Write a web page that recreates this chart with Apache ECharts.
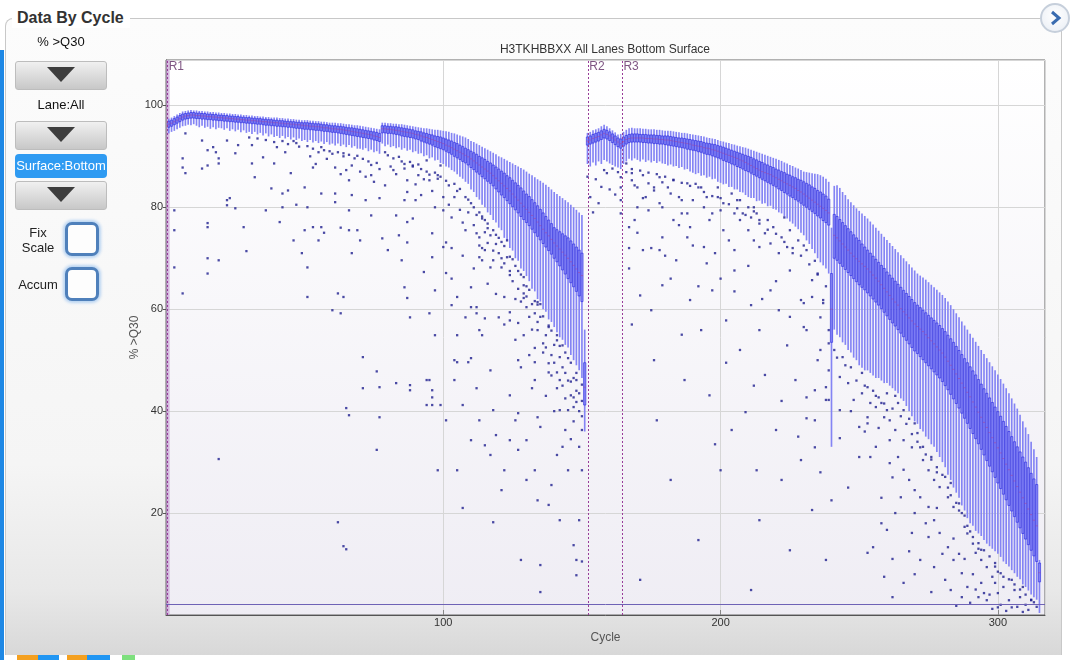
<!DOCTYPE html>
<html>
<head>
<meta charset="utf-8">
<title>Data By Cycle</title>
<script src="https://cdn.jsdelivr.net/npm/echarts@6/dist/echarts.min.js"></script>
<style>
  body { margin: 0; width: 1071px; height: 660px; overflow: hidden; background: #fff; position: relative;
         font-family: "Liberation Sans", Arial, sans-serif; color: #222; }
  #strip { position: absolute; left: 0; top: 50px; width: 4px; height: 610px; background: #1e88e5; }
  #panel { position: absolute; left: 5px; top: 18px; width: 1057px; height: 637px; box-sizing: border-box;
           border: 1px solid #c8c8c8; border-bottom: none; border-top-left-radius: 8px;
           background: linear-gradient(#fcfcfc 0%, #f5f5f5 70%, #e8e8e8 90%, #d8d8d8 100%); }
  #hdr { position: absolute; left: 12px; top: 8px; padding: 0 6px 0 5px; background: #fff; font-weight: bold;
         font-size: 16px; line-height: 20px; color: #333; z-index: 3; }
  #nav { position: absolute; left: 1040px; top: 3px; width: 30px; height: 30px; box-sizing: border-box; z-index: 3;
         border: 2px solid #c6cfdb; border-radius: 50%; background: radial-gradient(circle at 50% 40%, #fff, #e8edf4); }
  #ctrls { position: absolute; left: 0; top: 0; z-index: 3; }
  .lbl { position: absolute; left: 15px; width: 92px; text-align: center; font-size: 13px; color: #111; }
  .btn { position: absolute; left: 15px; width: 92px; height: 29px; box-sizing: border-box; border: 1px solid #bdbdbd;
         border-radius: 3px; background: linear-gradient(#f0f0f0, #c8c8c8); }
  .btn:after { content: ""; position: absolute; left: 31px; top: 5px; border-left: 14px solid transparent;
               border-right: 14px solid transparent; border-top: 15px solid #3d3d3d; }
  #surf { position: absolute; left: 15px; top: 154px; width: 92px; height: 24px; background: #2f9bf2; color: #fff;
          border-radius: 4px; text-align: center; line-height: 24px; font-size: 13px; }
  .chk { position: absolute; left: 65px; width: 34px; height: 34px; box-sizing: border-box; border: 3px solid #4f80bb;
         border-radius: 7px; background: #fdfdfd; box-shadow: 0 0 3px 2px #b9d4f2; }
  .side { position: absolute; left: 18px; width: 40px; text-align: center; font-size: 13px; color: #222; line-height: 15px; }
  .foot { position: absolute; top: 655px; height: 5px; }
  #chart { position: absolute; left: 0; top: 0; width: 1071px; height: 660px; z-index: 2; }
</style>
</head>
<body>
  <div id="strip"></div>
  <div id="panel"></div>
  <div id="hdr">Data By Cycle</div>
  <div id="nav"><svg width="26" height="26"><polyline points="10,7 17,13 10,19" fill="none" stroke="#3a6cb0" stroke-width="3"/></svg></div>
  <div id="chart"></div>
  <div id="ctrls">
    <div class="lbl" style="top:34px">% &gt;Q30</div>
    <div class="btn" style="top:61px"></div>
    <div class="lbl" style="top:97px">Lane:All</div>
    <div class="btn" style="top:121px"></div>
    <div id="surf">Surface:Bottom</div>
    <div class="btn" style="top:181px"></div>
    <div class="side" style="top:225px">Fix<br>Scale</div>
    <div class="chk" style="top:222px"></div>
    <div class="side" style="top:277px">Accum</div>
    <div class="chk" style="top:267px"></div>
  </div>
  <div class="foot" style="left:17px;width:21px;background:#f4a020"></div>
  <div class="foot" style="left:38px;width:21px;background:#2196f3"></div>
  <div class="foot" style="left:67px;width:20px;background:#f4a020"></div>
  <div class="foot" style="left:87px;width:23px;background:#2196f3"></div>
  <div class="foot" style="left:122px;width:13px;background:#7ee07e"></div>

<script type="text/javascript">
  // per-cycle box values (% >Q30), cycles 1..315 : R1 1-151, R2 152-163, R3 164-315
  var median = [
    96.3,96.5,96.8,97.1,97.4,97.7,97.9,98.0,98.1,98.1,
    98.0,98.0,97.9,97.9,97.8,97.8,97.7,97.7,97.6,97.6,
    97.5,97.5,97.4,97.4,97.3,97.3,97.2,97.2,97.1,97.1,
    97.0,97.0,96.9,96.9,96.8,96.8,96.7,96.7,96.6,96.6,
    96.5,96.5,96.4,96.4,96.3,96.3,96.2,96.2,96.1,96.0,
    96.0,95.9,95.9,95.8,95.8,95.7,95.6,95.6,95.5,95.4,
    95.4,95.3,95.3,95.2,95.1,95.0,94.9,94.8,94.7,94.6,
    94.5,94.4,94.3,94.2,94.0,93.9,93.7,95.4,95.4,95.3,
    95.3,95.2,95.1,95.0,94.9,94.8,94.7,94.6,94.5,94.3,
    94.2,94.0,93.8,93.7,93.5,93.3,93.1,92.9,92.7,92.5,
    92.2,92.0,91.7,91.4,91.1,90.8,90.5,90.2,89.9,89.5,
    89.1,88.7,88.3,87.9,87.5,87.1,86.7,86.2,85.7,85.2,
    84.7,84.2,83.7,83.2,82.6,82.0,81.4,80.8,80.2,79.6,
    79.0,78.4,77.8,77.1,76.4,75.7,75.0,74.4,73.7,73.0,
    72.4,71.8,71.2,70.6,70.0,69.3,68.6,67.9,67.2,66.6,
    44.7,
    93.0,93.2,93.5,93.7,93.9,94.2,94.5,94.3,94.0,93.6,93.2,92.8,
    92.5,92.9,93.3,93.5,93.6,93.6,93.6,
    93.6,93.6,93.5,93.5,93.5,93.4,93.4,93.3,93.3,93.2,
    93.2,93.1,93.0,92.9,92.8,92.7,92.6,92.5,92.4,92.2,
    92.1,92.0,91.9,91.7,91.6,91.5,91.3,91.2,91.0,90.8,
    90.6,90.4,90.2,90.0,89.8,89.6,89.3,89.1,88.8,88.5,
    88.2,87.9,87.6,87.3,87.0,86.8,86.6,86.4,86.1,85.8,
    85.5,85.2,84.9,84.6,84.3,84.0,83.7,83.3,83.0,82.6,
    82.2,81.8,81.4,81.0,80.6,80.2,79.8,79.4,78.9,60.0,
    74.5,74.0,73.4,72.8,72.2,71.6,71.0,70.4,69.9,69.4,
    68.9,68.4,67.9,67.3,66.7,66.1,65.5,64.8,64.1,63.4,
    62.7,62.0,61.4,60.8,60.1,59.5,58.9,58.3,57.7,57.1,
    56.6,56.1,55.6,55.0,54.4,53.8,53.2,52.6,52.0,51.4,
    50.6,49.8,49.0,48.2,47.3,46.4,45.5,44.6,43.7,42.8,
    41.8,40.8,39.8,38.8,37.8,36.8,35.8,34.8,33.8,32.8,
    31.8,30.7,29.6,28.5,27.4,26.3,25.2,24.1,23.0,21.9,
    20.8,19.7,18.6,17.5,8.3
  ];
  var q1 = [
    95.7,95.9,96.2,96.5,96.8,97.1,97.3,97.4,97.5,97.5,
    97.4,97.4,97.3,97.3,97.2,97.2,97.1,97.1,97.0,97.0,
    96.9,96.9,96.8,96.8,96.7,96.7,96.6,96.6,96.5,96.5,
    96.4,96.4,96.3,96.3,96.2,96.1,96.1,96.0,96.0,95.9,
    95.9,95.8,95.8,95.7,95.7,95.6,95.5,95.5,95.4,95.3,
    95.3,95.2,95.2,95.1,95.1,95.0,94.9,94.9,94.8,94.7,
    94.7,94.6,94.5,94.4,94.3,94.2,94.1,94.0,93.9,93.8,
    93.7,93.6,93.5,93.4,93.2,93.1,92.9,94.6,94.6,94.5,
    94.5,94.4,94.3,94.2,94.0,93.9,93.8,93.7,93.6,93.4,
    93.3,93.0,92.8,92.6,92.4,92.2,91.9,91.7,91.5,91.3,
    91.0,90.7,90.4,90.0,89.7,89.4,89.0,88.7,88.3,87.8,
    87.4,86.9,86.5,86.0,85.6,85.1,84.7,84.2,83.6,83.0,
    82.4,81.9,81.3,80.7,80.1,79.5,78.9,78.2,77.6,77.0,
    76.4,75.7,75.0,74.3,73.6,72.9,72.2,71.5,70.8,70.0,
    69.3,68.5,67.7,66.9,66.0,65.2,64.4,63.5,62.6,61.5,
    41.2,
    92.2,92.4,92.6,92.8,93.0,93.3,93.6,93.4,93.1,92.7,92.3,91.9,
    91.6,92.0,92.4,92.7,92.8,92.8,92.8,
    92.8,92.7,92.7,92.6,92.6,92.5,92.5,92.4,92.4,92.3,
    92.2,92.1,92.0,91.9,91.8,91.7,91.6,91.4,91.3,91.2,
    91.1,90.9,90.8,90.6,90.4,90.3,90.1,89.9,89.7,89.5,
    89.2,89.0,88.8,88.5,88.3,88.0,87.8,87.5,87.2,87.0,
    86.7,86.4,86.1,85.8,85.5,85.2,84.9,84.6,84.3,84.0,
    83.6,83.3,82.9,82.6,82.2,81.9,81.5,81.2,80.8,80.4,
    80.0,79.6,79.2,78.8,78.3,77.9,77.4,77.0,76.5,53.5,
    70.0,69.6,69.0,68.4,67.8,67.2,66.6,66.0,65.4,64.8,
    64.3,63.8,63.2,62.6,62.0,61.4,60.8,60.1,59.4,58.7,
    58.0,57.3,56.7,56.0,55.3,54.6,53.9,53.2,52.5,51.8,
    51.3,50.7,50.1,49.5,48.9,48.3,47.7,47.1,46.5,45.8,
    45.0,44.2,43.3,42.4,41.5,40.6,39.6,38.6,37.6,36.6,
    35.6,34.6,33.6,32.5,31.4,30.3,29.2,28.1,27.0,25.9,
    24.8,23.7,22.6,21.5,20.4,19.3,18.2,17.1,16.0,14.9,
    13.8,12.7,11.6,10.5,6.5
  ];
  var q3 = [
    96.9,97.1,97.4,97.7,98.0,98.3,98.4,98.5,98.6,98.6,
    98.5,98.5,98.4,98.4,98.3,98.3,98.2,98.2,98.1,98.1,
    98.0,98.0,97.9,97.9,97.8,97.8,97.7,97.7,97.6,97.6,
    97.5,97.5,97.4,97.4,97.3,97.3,97.2,97.2,97.1,97.1,
    97.0,97.0,96.9,96.9,96.8,96.8,96.7,96.7,96.6,96.6,
    96.6,96.5,96.5,96.4,96.4,96.3,96.2,96.2,96.1,96.0,
    96.0,95.9,95.9,95.8,95.7,95.6,95.6,95.5,95.4,95.3,
    95.2,95.1,95.0,94.9,94.8,94.7,94.5,96.0,96.0,95.9,
    95.9,95.8,95.8,95.7,95.6,95.5,95.4,95.3,95.2,95.0,
    94.9,94.8,94.6,94.5,94.3,94.2,94.0,93.9,93.8,93.6,
    93.4,93.2,93.0,92.7,92.5,92.2,91.9,91.6,91.3,91.0,
    90.7,90.4,90.0,89.7,89.4,89.0,88.7,88.3,87.9,87.5,
    87.1,86.7,86.2,85.8,85.3,84.8,84.3,83.8,83.2,82.6,
    82.1,81.5,80.9,80.3,79.6,78.9,78.2,77.5,76.8,76.0,
    75.6,75.2,74.8,74.4,74.0,73.4,72.8,72.2,71.6,71.0,
    49.5,
    93.8,94.0,94.3,94.5,94.7,95.0,95.3,95.1,94.8,94.4,94.0,93.6,
    93.4,93.8,94.1,94.3,94.4,94.4,94.4,
    94.3,94.3,94.3,94.2,94.2,94.2,94.1,94.1,94.0,94.0,
    94.0,93.9,93.8,93.7,93.6,93.6,93.5,93.4,93.3,93.2,
    93.1,93.0,92.9,92.7,92.6,92.5,92.4,92.3,92.1,92.0,
    91.8,91.6,91.4,91.2,91.0,90.8,90.6,90.4,90.2,90.0,
    89.8,89.5,89.3,89.0,88.8,88.5,88.3,88.0,87.8,87.5,
    87.3,87.0,86.8,86.5,86.3,86.0,85.8,85.5,85.3,85.0,
    84.7,84.4,84.0,83.7,83.3,83.0,82.6,82.2,81.6,67.0,
    78.6,78.2,77.6,77.0,76.4,75.8,75.2,74.6,74.0,73.5,
    72.8,72.2,71.6,71.0,70.4,69.8,69.2,68.6,68.0,67.3,
    66.7,66.1,65.5,64.9,64.3,63.7,63.1,62.5,61.9,61.3,
    60.8,60.3,59.8,59.3,58.8,58.3,57.8,57.3,56.8,56.2,
    55.6,54.9,54.2,53.5,52.7,51.9,51.1,50.3,49.5,48.7,
    47.9,47.1,46.2,45.3,44.4,43.5,42.6,41.7,40.8,39.9,
    39.0,38.0,37.0,36.0,35.0,34.0,33.0,32.0,31.0,30.0,
    28.9,27.8,26.7,25.6,10.2
  ];
  var highWhisker = [
    97.4,97.6,97.9,98.2,98.5,98.8,98.9,99.0,99.1,99.0,
    99.0,98.9,98.9,98.8,98.8,98.7,98.7,98.6,98.6,98.5,
    98.5,98.4,98.4,98.3,98.3,98.2,98.2,98.1,98.1,98.0,
    98.0,97.9,97.9,97.8,97.8,97.7,97.7,97.6,97.6,97.6,
    97.5,97.5,97.4,97.4,97.3,97.3,97.2,97.2,97.1,97.1,
    97.1,97.0,97.0,96.9,96.9,96.8,96.8,96.7,96.6,96.6,
    96.6,96.5,96.5,96.4,96.3,96.3,96.2,96.1,96.1,96.0,
    95.9,95.8,95.7,95.6,95.5,95.4,95.3,96.6,96.6,96.5,
    96.5,96.4,96.4,96.3,96.3,96.2,96.1,96.0,95.9,95.8,
    95.7,95.6,95.5,95.5,95.4,95.3,95.2,95.2,95.1,95.0,
    94.9,94.8,94.6,94.5,94.3,94.1,93.9,93.7,93.4,93.0,
    92.8,92.5,92.2,91.9,91.6,91.3,91.0,90.7,90.4,90.0,
    89.8,89.5,89.2,88.9,88.6,88.3,88.0,87.7,87.4,87.0,
    86.6,86.3,85.9,85.5,85.2,84.8,84.4,84.0,83.5,83.0,
    82.6,82.2,81.8,81.4,81.0,80.5,80.0,79.5,79.0,78.5,
    56.0,
    94.6,94.8,95.1,95.3,95.5,95.9,96.2,95.9,95.5,95.1,94.7,94.3,
    94.4,94.8,95.2,95.5,95.6,95.5,95.5,
    95.5,95.4,95.4,95.3,95.3,95.3,95.2,95.2,95.1,95.0,
    95.0,95.0,94.9,94.8,94.7,94.6,94.6,94.5,94.4,94.3,
    94.2,94.1,94.0,93.9,93.7,93.6,93.5,93.4,93.2,93.0,
    92.9,92.7,92.6,92.4,92.3,92.1,92.0,91.8,91.7,91.5,
    91.3,91.1,90.9,90.7,90.5,90.3,90.1,89.9,89.7,89.5,
    89.3,89.1,88.8,88.6,88.3,88.1,87.8,87.6,87.3,87.0,
    86.9,86.8,86.7,86.6,86.5,86.3,86.0,85.6,85.0,76.0,
    84.2,84.3,83.8,83.0,82.4,81.6,81.0,80.4,79.8,79.3,
    78.8,78.3,77.8,77.2,76.6,76.0,75.4,74.8,74.2,73.6,
    73.0,72.4,71.8,71.2,70.6,70.0,69.4,68.8,68.2,67.6,
    67.0,66.6,66.2,65.8,65.3,64.8,64.3,63.8,63.3,62.8,
    62.2,61.5,60.8,60.0,59.2,58.4,57.6,56.8,56.0,55.2,
    54.4,53.6,52.8,52.0,51.2,50.4,49.6,48.8,48.0,47.2,
    46.3,45.4,44.5,43.5,42.5,41.5,40.5,39.3,38.0,36.8,
    35.5,34.0,32.5,31.0,10.8
  ];
  var lowWhisker = [
    94.5,94.8,95.0,95.3,95.6,95.9,96.0,96.2,96.1,96.3,
    96.0,95.7,96.0,95.6,95.8,95.4,95.7,95.3,95.6,95.5,
    95.2,95.5,95.0,95.3,94.9,95.2,94.7,95.1,94.6,94.8,
    94.4,94.8,94.3,94.6,94.1,94.5,93.9,94.3,93.8,94.0,
    93.6,94.0,93.5,93.8,93.3,93.7,93.2,93.5,93.0,93.2,
    92.8,93.2,92.7,93.0,92.6,92.9,92.4,92.8,92.3,92.5,
    92.1,92.5,92.0,92.3,91.8,92.2,91.7,92.0,91.5,91.5,
    91.3,91.6,91.0,91.3,90.8,91.0,90.5,92.5,92.0,92.3,
    91.8,92.0,91.6,91.8,91.3,91.6,91.1,91.3,90.8,91.0,
    90.5,90.6,90.0,90.2,89.6,89.8,89.2,89.3,88.7,88.5,
    88.0,87.8,87.3,87.0,86.5,86.0,85.6,85.0,84.6,83.5,
    83.0,82.0,81.5,80.5,80.0,79.0,78.5,77.5,77.0,76.0,
    75.5,74.0,73.5,72.0,71.5,70.0,69.5,68.0,67.5,66.5,
    65.5,64.0,63.5,62.0,61.5,60.0,59.5,58.0,57.5,56.5,
    55.5,54.5,54.0,53.0,52.5,51.0,50.0,49.0,48.0,46.5,
    36.0,
    88.5,88.0,88.8,88.2,89.0,88.5,89.3,89.0,88.6,88.3,88.0,87.8,
    87.5,88.5,89.0,89.5,89.2,89.6,89.3,
    89.0,89.4,88.9,89.2,88.8,89.1,88.7,89.0,88.6,88.5,
    88.2,88.4,88.0,88.1,87.7,87.9,87.4,87.5,87.0,86.8,
    86.5,86.7,86.2,86.3,85.8,86.0,85.5,85.6,85.0,84.8,
    84.5,84.6,84.0,84.0,83.5,83.5,83.0,82.9,82.4,82.0,
    81.8,81.8,81.2,81.3,80.7,80.8,80.2,80.3,79.7,79.5,
    79.0,78.8,78.2,77.8,77.2,76.8,76.2,75.7,75.0,74.5,
    73.5,72.8,71.8,71.0,70.0,69.2,68.6,68.0,67.0,33.0,
    56.0,55.0,54.5,53.5,53.0,52.0,51.5,50.5,50.0,49.0,
    48.5,48.0,48.0,47.5,47.0,46.5,46.5,46.0,45.5,45.5,
    45.0,44.5,44.0,43.5,42.5,42.0,41.0,40.0,39.0,38.0,
    37.5,36.5,36.0,35.0,34.5,33.5,33.0,32.0,31.0,30.0,
    29.0,27.5,26.5,25.0,24.0,23.0,21.5,20.5,19.0,18.0,
    17.5,16.5,16.0,15.5,14.7,14.0,13.5,13.0,12.5,12.0,
    11.4,10.5,10.0,9.5,8.8,8.2,7.5,7.0,6.0,5.5,
    4.8,4.0,3.5,3.0,0.4
  ];

  // individual tile values outside the whiskers: [cycle, % >Q30]
  var outliers = [
    [3,79.4],[3,75.5],[3,68.2],[6,63.1],[6,89.6],[6,87.8],[7,86.7],[7,94.5],[13,93.1],[13,87.6],
    [15,91.2],[15,88.2],[15,76.9],[15,76.1],[15,70.0],[15,67.0],[17,91.8],[18,90.8],[19,89.6],[19,88.6],
    [19,69.6],[22,93.1],[22,81.4],[23,81.8],[22,80.4],[25,79.8],[25,90.6],[26,92.2],[28,76.1],[29,71.4],
    [30,93.7],[31,92.2],[31,88.6],[32,85.9],[35,89.8],[36,79.4],[38,83.7],[39,88.6],[40,91.8],[42,82.7],
    [42,80.0],[41,77.1],[43,90.8],[44,83.3],[45,86.7],[46,73.5],[46,93.0],[49,71.0],[50,83.9],[51,80.0],
    [50,75.5],[51,68.2],[51,62.4],[53,76.1],[53,87.8],[55,73.5],[56,82.7],[55,90.8],[56,76.1],[60,59.8],
    [61,82.7],[62,63.1],[63,59.2],[64,62.4],[64,90.6],[65,87.3],[66,85.3],[66,79.4],[66,75.5],[67,71.0],
    [33,93.5],[36,93.2],[39,92.8],[42,93.0],[44,92.4],[47,92.6],[48,91.9],[51,92.0],[53,91.5],[56,91.8],
    [57,91.2],[59,91.0],[60,90.5],[62,90.8],[64,90.0],[66,90.3],[68,89.6],[69,90.1],[71,89.5],[73,89.0],
    [74,88.3],[76,88.7],[79,90.8],[80,90.2],[82,89.6],[84,89.9],[85,89.0],[86,88.5],[88,88.9],[89,88.0],
    [91,88.4],[92,87.5],[94,87.0],[95,86.4],[97,86.8],[98,85.6],[99,86.0],[101,85.2],[102,84.3],[104,84.6],
    [105,83.2],[106,83.6],[108,82.0],[109,81.5],[110,80.8],[111,80.0],[113,79.0],[114,78.2],[116,76.8],[118,75.5],
    [119,74.6],[121,73.2],[122,72.4],[124,70.3],[125,69.8],[127,67.5],[128,66.8],[130,64.5],[131,63.8],[133,61.6],
    [134,60.9],[136,58.6],[138,56.8],[139,55.8],[141,53.9],[142,52.8],[144,51.5],[146,49.5],[148,47.5],[150,45.2],
    [63,76.0],[67,82.4],[69,75.5],[70,73.5],[72,81.4],[74,86.3],[74,78.4],[77,81.8],[78,73.9],[79,84.3],
    [80,71.6],[82,87.3],[83,78.4],[84,74.5],[85,69.6],[86,81.4],[87,85.3],[89,88.2],[91,86.3],[92,82.4],
    [94,89.2],[95,85.3],[98,86.3],[99,88.2],
    [52,90.0],[54,88.5],[58,89.5],[61,87.8],[63,86.5],[67,88.2],[70,87.0],[72,86.0],[75,85.0],[77,87.5],
    [81,88.0],[83,86.5],[87,83.0],[90,84.5],[93,85.5],[96,83.2],[97,80.0],
    [86,87.6],[90,81.4],[87,77.1],[89,77.8],[87,73.1],[86,64.3],[87,62.2],[88,58.4],[88,44.1],[96,44.1],
    [96,42.7],[96,41.2],[95,46.1],[97,54.9],[95,59.2],[97,63.7],[96,74.9],[96,70.2],[93,67.3],[100,72.2],
    [100,79.4],[100,82.0],[101,73.1],[103,72.0],[101,67.1],[103,60.8],[104,50.0],[105,54.9],[105,62.4],[104,46.1],
    [109,49.6],[110,50.4],[110,64.3],[112,60.4],[112,74.9],[113,74.1],[114,72.0],[113,70.2],[114,69.6],[115,71.6],
    [114,77.8],[115,75.1],[116,75.9],[118,69.6],[117,68.2],[120,71.0],[121,68.2],[123,70.2],[124,66.7],[122,62.4],
    [120,58.4],[115,58.2],[113,55.9],[114,54.9],[112,59.2],[110,60.4],[108,58.4],[124,57.8],[124,59.4],[127,57.3],
    [129,66.3],[129,64.7],[129,63.1],[129,62.2],[130,60.4],[133,59.2],[134,61.4],[135,61.0],[129,54.9],[133,52.4],
    [134,55.9],[138,56.5],[136,53.3],[137,54.9],[141,54.9],[143,52.9],[142,50.6],[145,50.4],[147,46.5],[148,46.1],
    [146,43.1],[147,42.7],[148,41.8],[143,48.6],[141,47.6],[138,49.4],[138,47.6],[142,46.1],[133,46.1],[128,48.6],
    [127,50.0],[133,49.6],[132,44.5],[142,40.2],[145,40.2],[147,40.8],[134,38.8],[135,36.9],[127,39.6],[118,40.2],
    [117,48.0],[112,44.5],[94,46.1],
    [102,80.5],[103,78.0],[104,82.0],[106,79.5],[107,77.0],[108,75.5],[109,79.0],[111,76.5],[112,78.5],[113,72.5],
    [115,77.5],[116,73.0],[117,74.5],[118,71.5],[119,72.8],[120,74.0],[121,70.0],[122,69.0],[123,73.5],[124,67.5],
    [125,65.5],[126,68.5],[126,62.0],[127,64.0],[128,61.5],[130,62.5],[131,58.5],[132,61.0],[132,56.0],[134,57.5],
    [135,58.5],[136,51.5],[137,52.5],[139,51.0],[139,47.0],[140,53.0],[140,49.5],[141,44.5],[143,45.0],[144,47.5],
    [144,42.5],[145,46.0],[146,45.8],[147,38.0],[148,44.0],[149,43.5],[149,40.0],[150,42.0],[150,39.0],[149,33.0],
    [146,34.5],[143,33.0],[140,40.0],[137,43.0],[131,51.0],[126,54.0],[122,57.0],[119,63.0],[116,65.0],[111,68.0],
    [107,70.5],[103,66.0],
    [19,30.6],[62,18.2],[64,13.5],[65,12.9],[65,40.6],[66,39.2],[71,50.6],[71,44.5],[76,47.8],[77,38.8],
    [77,44.7],[76,32.4],[83,45.5],[88,45.1],[94,41.2],[105,49.6],[107,41.2],[105,28.4],[107,21.0],[118,18.2],
    [121,24.5],[122,28.4],[124,34.3],[128,10.8],[127,32.4],[130,26.5],[133,28.4],[134,22.5],[135,9.8],[135,4.5],
    [138,21.6],[139,25.5],[141,31.4],[142,18.6],[144,36.3],[145,28.4],[147,13.7],[148,7.8],[148,10.8],[149,18.6],
    [150,28.4],[150,36.3],[115,33.3],[113,38.2],[117,31.4],[110,34.3],[119,35.3],[124,43.1],[126,38.2],[130,34.3],
    [99,41.2],[101,38.2],[98,28.4],[61,81.0],[47,80.5],[57,75.0],
    [153,82.0],[156,80.8],[154,79.0],[158,87.3],[159,86.7],[161,87.6],[163,86.9],[164,85.9],[164,83.9],[164,81.4],
    [164,78.8],[152,86.0],[155,85.5],[157,84.0],[160,83.5],[162,82.5],[150,10.5],
    [166,86.9],[168,85.3],[170,83.9],[172,86.3],[173,82.0],[174,84.7],[176,83.3],[178,85.9],[179,80.0],[181,83.9],
    [183,85.3],[185,82.0],[186,78.8],[188,84.7],[190,81.4],[193,83.9],[195,82.0],[197,78.8],[199,83.9],[201,80.8],
    [204,82.7],[205,78.8],[207,81.4],[210,80.0],[212,79.2],[213,78.8],
    [166,88.6],[168,86.7],[169,84.3],[170,80.0],[169,77.5],[167,76.1],[172,81.8],[174,79.4],[176,83.9],[178,80.8],
    [179,84.9],[182,82.7],[183,77.5],[186,81.4],[188,78.8],[189,76.1],[192,83.9],[194,80.0],[196,77.5],[199,82.0],
    [200,79.4],[201,75.5],[203,73.5],[206,81.4],[207,77.5],[208,78.8],[210,75.5],[212,80.0],[212,73.5],[214,77.5],
    [214,72.2],[216,74.9],[217,77.5],[218,72.9],[219,76.1],[221,71.0],[222,74.1],[223,78.0],[224,72.2],[225,75.5],
    [226,71.0],[228,73.5],[230,72.5],[231,71.6],[234,69.5],[235,66.8],[167,72.0],[172,71.6],[179,74.1],[178,71.6],
    [188,74.1],[194,72.2],[198,71.0],[205,71.6],
    [168,87.5],[171,87.2],[174,86.8],[177,86.5],[180,86.0],[183,85.4],[186,84.8],[189,84.2],[191,84.6],[194,83.0],
    [197,82.2],[200,81.8],[203,80.6],[206,79.8],[209,78.5],[211,78.0],[214,76.8],[217,75.6],[220,74.8],[223,73.2],
    [226,72.0],[229,70.5],[232,68.8],[235,67.0],[238,64.5],
    [170,75.0],[175,72.0],[180,70.5],[185,76.5],[190,72.5],[195,69.0],[200,66.0],[205,63.5],[210,68.5],[215,62.0],
    [220,65.5],[225,58.5],[230,56.5],[236,52.0],[182,66.0],[192,64.5],[202,49.5],[212,45.0],[222,42.0],[228,35.0],
    [236,28.0],[198,33.5],[186,55.0],[176,50.0],[168,57.0],
    [167,68.0],[171,62.7],[175,59.8],[179,64.7],[184,69.6],[189,61.8],[193,55.9],[197,63.7],[202,57.8],[205,67.6],
    [207,52.0],[211,60.8],[214,55.9],[216,47.1],[218,63.7],[221,59.8],[224,52.9],[225,67.6],[227,46.1],[229,61.8],
    [231,55.9],[233,65.7],[235,50.0],[237,61.8],[238,42.2],[239,55.9],[177,38.2],[182,26.5],[187,46.1],[196,43.1],
    [200,28.4],[204,36.3],[209,39.8],[213,28.4],[214,18.6],[220,36.3],[222,26.5],[225,12.7],[229,30.4],[233,20.6],
    [234,38.2],[238,10.8],[240,22.5],[171,6.9],[192,14.7],[211,4.9],
    [244,50.6],[247,48.6],[243,46.7],[246,45.5],[251,47.5],[253,44.7],[251,43.5],[254,41.6],[248,42.2],[261,38.2],
    [259,38.8],[253,38.8],[250,36.9],[243,40.2],[263,36.3],[261,34.3],[257,36.7],[250,31.0],[254,31.0],[243,34.7],
    [239,53.3],[239,48.0],[238,44.7],[239,42.2],[234,44.1],[231,42.7],[231,38.6],[234,32.9],[237,61.2],[236,58.4],
    [233,62.4],[230,61.2],[258,41.6],[260,40.2],[255,44.0],[257,42.7],
    [241,52.0],[242,50.5],[245,49.0],[249,46.0],[252,45.0],[256,43.0],[259,41.5],[262,40.5],[265,39.0],[267,37.5],
    [269,35.5],[271,34.0],[273,33.0],[274,31.5],[276,30.5],[278,28.0],[280,27.5],[282,25.0],[283,23.5],[285,22.0],
    [286,20.5],[288,19.5],[289,16.0],[291,14.0],[293,13.0],[294,12.8],[297,11.5],[299,9.5],[300,8.5],[302,7.5],
    [304,7.0],[306,6.0],[308,5.0],[310,4.0],[312,3.0],[247,40.0],[252,36.0],[256,33.0],[262,27.0],[266,28.5],
    [270,20.0],[274,18.0],[278,21.0],[280,12.0],[284,15.0],[288,11.0],[291,8.0],[292,5.0],[297,4.0],[301,2.0],
    [305,1.5],[310,2.0],[246,25.0],[258,23.0],[262,11.0],[268,12.5],[276,4.5],[286,12.0],[300,1.5],
    [253,37.6],[256,40.8],[260,43.5],[263,43.0],[264,41.6],[266,40.2],[268,38.5],[270,37.6],[271,35.7],[269,32.9],
    [266,34.3],[264,31.0],[261,29.8],[272,32.9],[273,30.4],[275,28.4],[276,31.0],[277,26.5],[278,29.0],[279,25.1],
    [281,27.1],[282,23.1],[283,25.9],[284,21.2],[286,21.9],[287,20.0],[288,17.3],[289,17.5],[290,16.4],[291,15.3],
    [292,12.2],[293,14.1],[294,10.8],[295,12.7],[296,9.4],[298,7.5],[299,10.2],[294,6.3],[295,4.3],[296,2.9],
    [299,6.3],[300,4.3],[301,8.2],[302,5.5],[304,2.9],[305,6.9],[306,4.9],[307,1.6],[308,3.5],[309,5.5],
    [311,1.0],[312,2.9],[313,2.5],[314,1.6],[290,2.4],[293,3.5],[289,5.5],[287,8.2],[284,10.8],[282,13.3],
    [279,16.1],[277,18.6],[275,21.2],[272,23.1],[270,24.5],[268,26.5],[265,23.1],[263,20.0],[260,16.7],[258,18.0],
    [255,13.3],[253,12.2],[259,7.5],[266,6.3],[272,10.8],[277,9.4],[281,6.9],[283,4.9],[287,3.5],[275,15.3],
    [269,16.1],[262,3.5],[270,8.0],[285,1.8],[298,1.2],[303,0.8],[309,0.6]
  ];

  var readNames = ['R1', 'R2', 'R3'];
  var readStarts = [0.6, 152.3, 164.6];
  var baseLine = 2.1;
  var xTicks = { min: 0, max: 317, step: 100 };
  var yTicks = { min: 0, max: 108.9, step: 20 };

  var cycleNo = median.map(function (v, i) { return i + 1; });
  var boxRows = median.map(function (m, i) {
    return [cycleNo[i], lowWhisker[i], q1[i], m, q3[i], highWhisker[i]];
  });

  function renderBox(params, api) {
    var c = api.value(0);
    var w = api.size([1, 0])[0];
    var pLo = api.coord([c, api.value(1)]);
    var pQ1 = api.coord([c, api.value(2)]);
    var pMed = api.coord([c, api.value(3)]);
    var pQ3 = api.coord([c, api.value(4)]);
    var pHi = api.coord([c, api.value(5)]);
    return {
      type: 'group',
      children: [
        { type: 'rect', shape: { x: pHi[0] - w * 0.3, y: pHi[1], width: w * 0.6, height: pLo[1] - pHi[1] },
          style: { fill: '#8484f4' } },
        { type: 'rect', shape: { x: pQ3[0] - w * 0.4, y: pQ3[1], width: w * 0.8, height: pQ1[1] - pQ3[1] },
          style: { fill: 'rgba(120,120,245,0.35)', stroke: '#3030e2', lineWidth: 0.7 } },
        { type: 'line', shape: { x1: pMed[0] - w * 0.4, y1: pMed[1], x2: pMed[0] + w * 0.4, y2: pMed[1] },
          style: { stroke: 'rgba(190,50,120,0.5)', lineWidth: 0.8 } }
      ]
    };
  }

  var myChart = echarts.init(document.getElementById('chart'));

  var axisText = { color: '#333', fontSize: 11, fontFamily: 'Liberation Sans, Arial, sans-serif' };

  myChart.setOption({
    animation: false,
    title: {
      text: 'H3TKHBBXX All Lanes Bottom Surface',
      left: 605, top: 44, textAlign: 'center', padding: 0,
      textStyle: { fontSize: 12, fontWeight: 'normal', color: '#333', fontFamily: 'Liberation Sans, Arial, sans-serif' }
    },
    grid: {
      left: 166, right: 26, top: 60, bottom: 45, show: true,
      borderColor: '#666', borderWidth: 1,
      backgroundColor: new echarts.graphic.LinearGradient(0, 0, 0, 1, [
        { offset: 0, color: '#ffffff' }, { offset: 1, color: '#efedf4' }
      ])
    },
    xAxis: {
      type: 'value', min: xTicks.min, max: xTicks.max, interval: xTicks.step,
      name: 'Cycle', nameLocation: 'middle', nameGap: 17, nameMoveOverlap: false,
      nameTextStyle: { color: '#555', fontSize: 12, fontFamily: 'Liberation Sans, Arial, sans-serif' },
      axisLine: { lineStyle: { color: '#555' } },
      axisTick: { inside: true, length: 5, lineStyle: { color: '#888' } },
      axisLabel: Object.assign({ margin: 2, showMinLabel: false, showMaxLabel: false }, axisText),
      splitLine: { lineStyle: { color: '#d6d6d6' } }
    },
    yAxis: {
      type: 'value', min: yTicks.min, max: yTicks.max, interval: yTicks.step,
      name: '% >Q30', nameLocation: 'middle', nameGap: 25, nameMoveOverlap: false,
      nameTextStyle: { color: '#555', fontSize: 12, fontFamily: 'Liberation Sans, Arial, sans-serif' },
      axisLine: { lineStyle: { color: '#555' } },
      axisTick: { length: 3, lineStyle: { color: '#555' } },
      axisLabel: Object.assign({ margin: 3, showMinLabel: false, showMaxLabel: false }, axisText),
      splitLine: { lineStyle: { color: '#d6d6d6' } }
    },
    series: [
      {
        type: 'custom', name: 'boxes', renderItem: renderBox, data: boxRows,
        encode: { x: 0, y: [1, 5] }, clip: true, z: 2, silent: true
      },
      {
        type: 'scatter', name: 'outliers', data: outliers, symbol: 'rect', symbolSize: 2.3,
        itemStyle: { color: '#1e1e8e' }, z: 3, silent: true
      },
      {
        type: 'line', name: 'reads', data: [], z: 4, silent: true,
        markArea: {
          silent: true,
          itemStyle: { color: 'rgba(196,158,212,0.7)' },
          data: [[{ xAxis: 0 }, { xAxis: 1.3 }]]
        },
        markLine: {
          silent: true, symbol: 'none', label: { show: false },
          lineStyle: { color: '#983c98', type: [2, 2], width: 1 },
          data: readStarts.map(function (x) { return { xAxis: x }; }).concat([
            { yAxis: baseLine, lineStyle: { color: '#6e62b6', type: 'solid', width: 1 } }
          ])
        }
      },
      {
        type: 'scatter', name: 'readLabels', symbolSize: 0, z: 5, silent: true,
        data: readStarts.map(function (x, i) { return { name: readNames[i], value: [x, 107.6] }; }),
        label: { show: true, formatter: '{b}', position: 'right', distance: 1, color: '#5e2a63', fontSize: 12,
                 fontFamily: 'Liberation Sans, Arial, sans-serif' }
      }
    ]
  });
</script>
</body>
</html>
